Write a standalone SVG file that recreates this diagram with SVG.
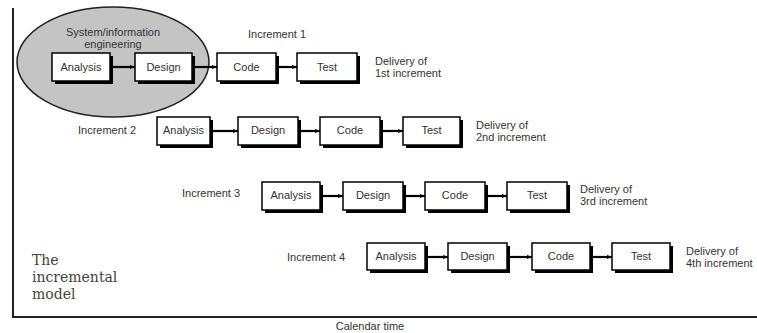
<svg xmlns="http://www.w3.org/2000/svg" width="757" height="333" viewBox="0 0 757 333">
<defs>
<marker id="ah" viewBox="0 0 10 10" refX="10" refY="5" markerWidth="5" markerHeight="5" orient="auto" markerUnits="userSpaceOnUse">
<path d="M0,1 L10,5 L0,9 z" fill="#000"/>
</marker>
</defs>
<style>
.t{font-family:"Liberation Sans","DejaVu Sans",sans-serif;font-size:11px;fill:#333}
.c{text-anchor:middle}
.sh{fill:#000}
.bx{fill:#fff;stroke:#000;stroke-width:1.5}
.cn{stroke:#000;stroke-width:2.2;fill:none;marker-end:url(#ah)}
.ax{stroke:#222;stroke-width:2;fill:none}
.m{font-family:"DejaVu Serif","Liberation Serif",serif;font-size:14px;fill:#444}
</style>
<rect width="757" height="333" fill="#fff"/>
<g id="axes">
<path class="ax" d="M13,8 V317 H757"/>
<text class="t c" x="370" y="330">Calendar time</text>
</g>
<g id="sysinfo">
<ellipse cx="113" cy="62" rx="96" ry="55" fill="#c4c4c4" stroke="#222" stroke-width="1.5"/>
<text class="t c" x="113" y="36">System/information</text>
<text class="t c" x="113" y="48">engineering</text>
</g>
<g id="model-title">
<text class="m" x="32" y="265">The</text>
<text class="m" x="32" y="282">incremental</text>
<text class="m" x="32" y="299">model</text>
</g>
<g id="connectors">
<line class="cn" x1="110" y1="67" x2="135" y2="67"/>
<line class="cn" x1="192" y1="67" x2="217" y2="67"/>
<line class="cn" x1="276" y1="67" x2="297" y2="67"/>
<line class="cn" x1="210" y1="131" x2="238" y2="131"/>
<line class="cn" x1="298" y1="131" x2="320" y2="131"/>
<line class="cn" x1="380" y1="131" x2="403" y2="131"/>
<line class="cn" x1="320" y1="196" x2="343" y2="196"/>
<line class="cn" x1="403" y1="196" x2="425" y2="196"/>
<line class="cn" x1="485" y1="196" x2="507" y2="196"/>
<line class="cn" x1="425" y1="257" x2="448" y2="257"/>
<line class="cn" x1="507" y1="257" x2="532" y2="257"/>
<line class="cn" x1="590" y1="257" x2="612" y2="257"/>
</g>
<g id="inc1">
<text class="t c" x="277" y="38">Increment 1</text>
<g id="i1-analysis"><rect class="sh" x="55" y="56" width="58" height="28"/><rect class="bx" x="52" y="53" width="58" height="28"/><text class="t c" x="81" y="71">Analysis</text></g>
<g id="i1-design"><rect class="sh" x="138" y="56" width="57" height="28"/><rect class="bx" x="135" y="53" width="57" height="28"/><text class="t c" x="163.5" y="71">Design</text></g>
<g id="i1-code"><rect class="sh" x="220" y="56" width="59" height="28"/><rect class="bx" x="217" y="53" width="59" height="28"/><text class="t c" x="246.5" y="71">Code</text></g>
<g id="i1-test"><rect class="sh" x="300" y="56" width="60" height="28"/><rect class="bx" x="297" y="53" width="60" height="28"/><text class="t c" x="327" y="71">Test</text></g>
<text class="t" x="375" y="65">Delivery of</text>
<text class="t" x="375" y="77">1st increment</text>
</g>
<g id="inc2">
<text class="t" x="78" y="134">Increment 2</text>
<g id="i2-analysis"><rect class="sh" x="160" y="120" width="53" height="28"/><rect class="bx" x="157" y="117" width="53" height="28"/><text class="t c" x="183.5" y="134">Analysis</text></g>
<g id="i2-design"><rect class="sh" x="241" y="120" width="60" height="28"/><rect class="bx" x="238" y="117" width="60" height="28"/><text class="t c" x="268" y="134">Design</text></g>
<g id="i2-code"><rect class="sh" x="323" y="120" width="60" height="28"/><rect class="bx" x="320" y="117" width="60" height="28"/><text class="t c" x="350" y="134">Code</text></g>
<g id="i2-test"><rect class="sh" x="406" y="120" width="57" height="28"/><rect class="bx" x="403" y="117" width="57" height="28"/><text class="t c" x="431.5" y="134">Test</text></g>
<text class="t" x="476" y="129">Delivery of</text>
<text class="t" x="476" y="141">2nd increment</text>
</g>
<g id="inc3">
<text class="t" x="182" y="197">Increment 3</text>
<g id="i3-analysis"><rect class="sh" x="265" y="185" width="58" height="28"/><rect class="bx" x="262" y="182" width="58" height="28"/><text class="t c" x="291" y="199">Analysis</text></g>
<g id="i3-design"><rect class="sh" x="346" y="185" width="60" height="28"/><rect class="bx" x="343" y="182" width="60" height="28"/><text class="t c" x="373" y="199">Design</text></g>
<g id="i3-code"><rect class="sh" x="428" y="185" width="60" height="28"/><rect class="bx" x="425" y="182" width="60" height="28"/><text class="t c" x="455" y="199">Code</text></g>
<g id="i3-test"><rect class="sh" x="510" y="185" width="60" height="28"/><rect class="bx" x="507" y="182" width="60" height="28"/><text class="t c" x="537" y="199">Test</text></g>
<text class="t" x="580" y="193">Delivery of</text>
<text class="t" x="580" y="205">3rd increment</text>
</g>
<g id="inc4">
<text class="t" x="287" y="261">Increment 4</text>
<g id="i4-analysis"><rect class="sh" x="370" y="246" width="58" height="27"/><rect class="bx" x="367" y="243" width="58" height="27"/><text class="t c" x="396" y="260">Analysis</text></g>
<g id="i4-design"><rect class="sh" x="451" y="246" width="59" height="27"/><rect class="bx" x="448" y="243" width="59" height="27"/><text class="t c" x="477.5" y="260">Design</text></g>
<g id="i4-code"><rect class="sh" x="535" y="246" width="58" height="27"/><rect class="bx" x="532" y="243" width="58" height="27"/><text class="t c" x="561" y="260">Code</text></g>
<g id="i4-test"><rect class="sh" x="615" y="246" width="58" height="27"/><rect class="bx" x="612" y="243" width="58" height="27"/><text class="t c" x="641" y="260">Test</text></g>
<text class="t" x="686" y="255">Delivery of</text>
<text class="t" x="686" y="267">4th increment</text>
</g>
</svg>
